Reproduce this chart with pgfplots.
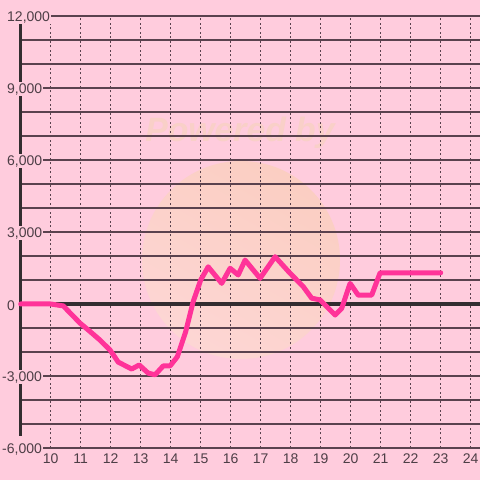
\documentclass[border=0pt]{standalone}
\usepackage{pgfplots}
\pgfplotsset{compat=1.18}
\usepackage{fontspec}
\setmainfont{Liberation Sans}
\definecolor{bg}{RGB}{255,204,221}
\definecolor{gridc}{RGB}{90,66,78}
\definecolor{txt}{RGB}{77,62,70}
\definecolor{zeroc}{RGB}{51,45,48}
\definecolor{linec}{RGB}{255,51,153}
\definecolor{wm}{RGB}{249,208,200}
\pgfplotsset{
  base/.style={
    scale only axis,
    width=459.3pt, height=432pt,
    xmin=9, xmax=24.31, ymin=-6000, ymax=12000,
    axis line style={draw=none},
    scaled y ticks=false, scaled x ticks=false,
    major tick length=0pt, minor tick length=0pt,
    clip=false,
  }
}
\begin{document}
\begin{tikzpicture}
\fill[bg] (-20.7pt,-32pt) rectangle (459.3pt,448pt);
\shade[top color={rgb,255:red,251;green,206;blue,194}, bottom color={rgb,255:red,253;green,214;blue,212}, shading angle=-30] (220.3pt,188pt) circle (99pt);
\node[wm, font=\fontsize{33.7}{36}\selectfont\bfseries\itshape] at (219.3pt,315pt) {Powered by};
% grid, lines and data
\begin{axis}[
  base,
  xtick={10,...,24},
  ytick={-6000,-3000,0,3000,6000,9000,12000},
  minor ytick={-5000,-4000,-2000,-1000,1000,2000,4000,5000,7000,8000,10000,11000},
  xticklabels={}, yticklabels={},
  xmajorgrids, ymajorgrids, yminorgrids,
  x grid style={gridc, line width=1.2pt, dash pattern=on 2pt off 2.5pt},
  y grid style={gridc, line width=1.3pt, solid},
  minor y grid style={gridc, line width=1.3pt, solid},
]
\draw[zeroc, line width=3.5pt] (axis cs:9,11667) -- (axis cs:9,-5500);
\draw[zeroc, line width=3.5pt] (axis cs:9,0) -- (axis cs:24.31,0);
\addplot[linec, line width=5pt, line join=round, line cap=round, mark=none] coordinates {
(9.0,0) (10.0,0) (10.42,-80) (10.98,-800) (11.25,-1080) (11.64,-1500)
(11.98,-1920) (12.25,-2420) (12.70,-2710) (12.95,-2540) (13.25,-2880)
(13.48,-2950) (13.75,-2580) (13.98,-2580) (14.22,-2200) (14.5,-1150)
(14.75,100) (15.0,1000) (15.25,1550) (15.70,860) (15.98,1490) (16.25,1210)
(16.48,1830) (16.98,1070) (17.48,1970) (17.98,1280) (18.42,720) (18.70,240)
(18.98,170) (19.48,-460) (19.70,-180) (19.98,860) (20.25,370) (20.70,370)
(20.98,1300) (23.0,1300)
};
\end{axis}
% tick labels on top
\begin{axis}[
  base,
  xtick={10,...,24},
  ytick={0,3000,6000,9000,12000},
  extra y ticks={-6000,-3000},
  extra y tick style={yticklabel style={xshift=-5pt}},
  tick label style={font=\fontsize{14}{16}\selectfont, text=txt},
  /pgf/number format/assume math mode=true,
  /pgf/number format/1000 sep={,},
  yticklabel style={anchor=west, xshift=-14.9pt, yshift=-1.2pt, fill=bg, inner sep=1.2pt},
  xticklabel style={yshift=-2pt},
]
\addplot[draw=none] coordinates {(9,0)};
\end{axis}
\pgfresetboundingbox
\useasboundingbox (-20.7pt,-32pt) rectangle (459.3pt,448pt);
\end{tikzpicture}
\end{document}
